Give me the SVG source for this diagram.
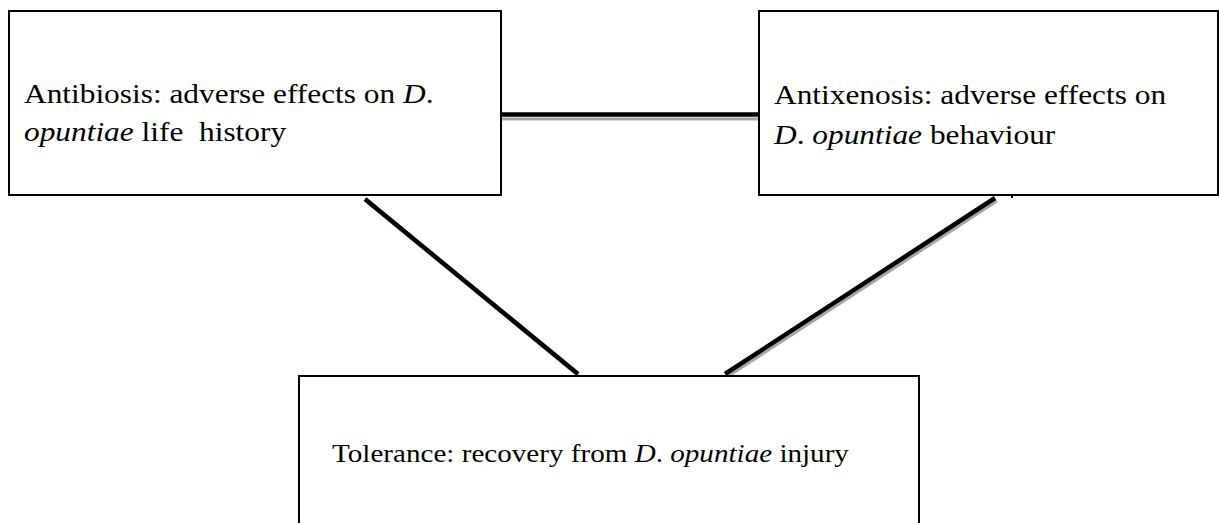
<svg xmlns="http://www.w3.org/2000/svg" width="1219" height="523" viewBox="0 0 1219 523">
<style>
.box{fill:#fff;stroke:#000;stroke-width:2}
.t{font-family:"Liberation Serif","Times New Roman",serif;fill:#000}
.i{font-style:italic}
.ln{stroke:#000;stroke-width:4.5;fill:none}
.sh{stroke:#a6a6a6;stroke-width:3;fill:none}
</style>
<rect width="1219" height="523" fill="#fff"/>
<g id="connectors">
<line class="sh" x1="502" y1="119" x2="760" y2="119"/>
<line class="ln" x1="502" y1="114.5" x2="759" y2="114.5"/>
<line class="sh" x1="367" y1="202" x2="580" y2="377"/>
<line class="ln" x1="365" y1="199" x2="578" y2="374"/>
<line class="sh" x1="997" y1="201" x2="727" y2="377"/>
<line class="ln" x1="995" y1="198" x2="725" y2="374"/>
<rect x="1011" y="196" width="2" height="2" fill="#000"/>
</g>
<g id="antibiosis">
<rect class="box" x="9" y="11" width="492" height="184"/>
<text class="t" font-size="28" transform="translate(24,103) scale(1.12,1)">Antibiosis: adverse effects on <tspan class="i">D</tspan>.</text>
<text class="t" font-size="28" xml:space="preserve" transform="translate(24,141) scale(1.12,1)"><tspan class="i">opuntiae</tspan> life  history</text>
</g>
<g id="antixenosis">
<rect class="box" x="759" y="11" width="459" height="184"/>
<text class="t" font-size="28" transform="translate(774,104) scale(1.12,1)">Antixenosis: adverse effects on</text>
<text class="t" font-size="28" transform="translate(774,144) scale(1.12,1)"><tspan class="i">D</tspan>. <tspan class="i">opuntiae</tspan> behaviour</text>
</g>
<g id="tolerance">
<rect class="box" x="299" y="376" width="620" height="160"/>
<text class="t" font-size="26" transform="translate(332,462) scale(1.12,1)">Tolerance: recovery from <tspan class="i">D</tspan>. <tspan class="i">opuntiae</tspan> injury</text>
</g>
</svg>
